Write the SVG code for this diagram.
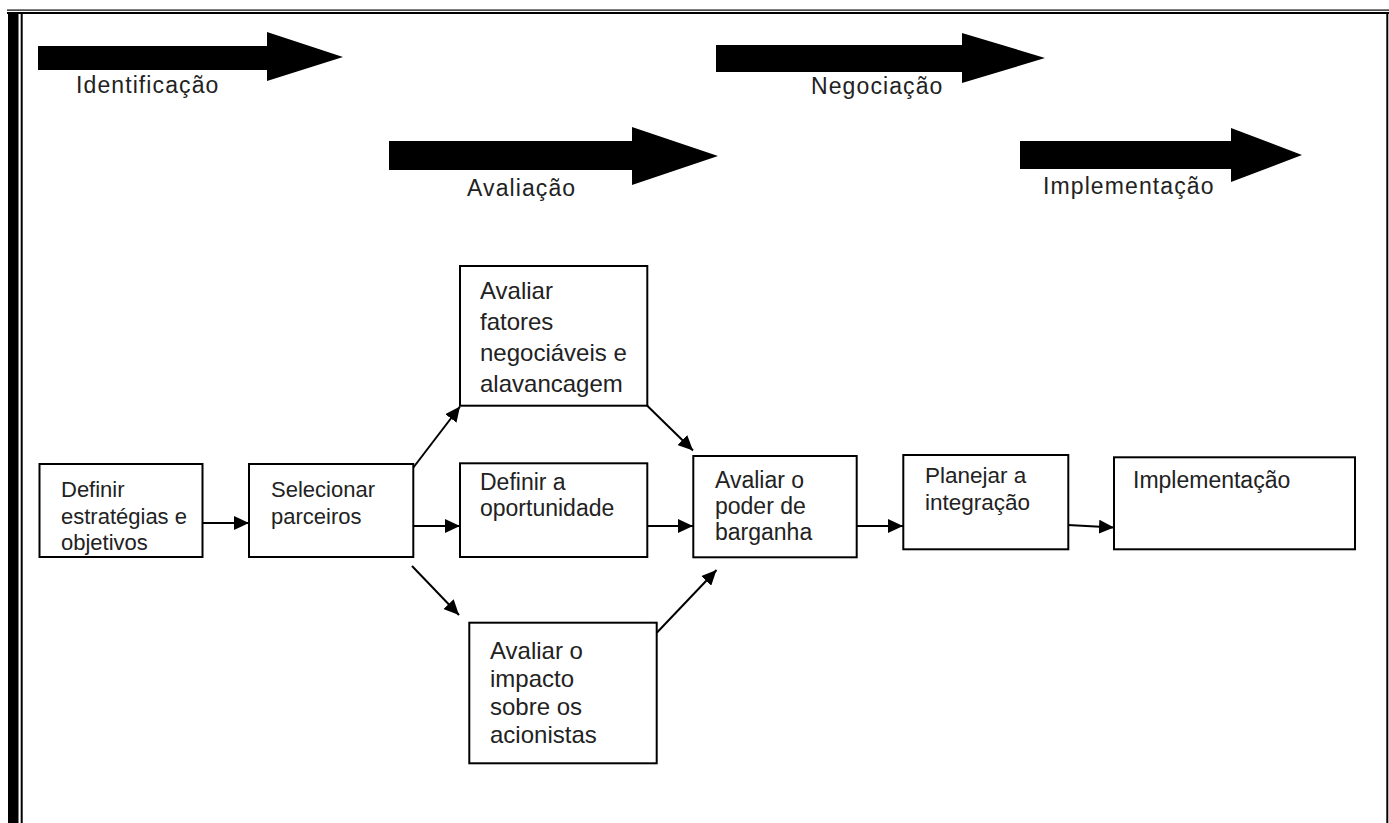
<svg xmlns="http://www.w3.org/2000/svg" width="1389" height="823" viewBox="0 0 1389 823">
<style>
.box{fill:#fff;stroke:#000;stroke-width:2}
.t{font-family:"Liberation Sans",Arial,sans-serif;fill:#222}
.lab{font-family:"Liberation Sans",Arial,sans-serif;font-size:23px;letter-spacing:1.1px;fill:#222}
.con{stroke:#000;stroke-width:2;fill:none;marker-end:url(#ah)}
.big{fill:#000}
</style>
<defs>
<marker id="ah" markerUnits="userSpaceOnUse" markerWidth="16" markerHeight="14" refX="15" refY="7" orient="auto">
<path d="M0,0 L15,7 L0,14 z" fill="#000"/>
</marker>
</defs>
<rect width="1389" height="823" fill="#fff"/>
<g id="border">
<rect x="7" y="9.5" width="1382" height="1.2" fill="#000"/>
<rect x="7" y="12" width="1382" height="2" fill="#000"/>
<rect x="8" y="14" width="10.5" height="809" fill="#000"/>
<rect x="20.7" y="14" width="2" height="809" fill="#000"/>
<rect x="1386.3" y="13" width="2" height="810" fill="#000"/>
</g>
<g id="phase-identificacao">
<polygon class="big" points="38,46 267,46 267,32 343,57 267,81 267,70 38,70"/>
<text class="lab" x="76" y="93">Identificação</text>
</g>
<g id="phase-negociacao">
<polygon class="big" points="716,45 962,45 962,33 1045,58 962,83 962,72 716,72"/>
<text class="lab" x="811" y="94">Negociação</text>
</g>
<g id="phase-avaliacao">
<polygon class="big" points="389,141 632,141 632,127 718,156 632,185 632,170 389,170"/>
<text class="lab" x="467" y="196">Avaliação</text>
</g>
<g id="phase-implementacao">
<polygon class="big" points="1020,141 1231,141 1231,128 1302,155 1231,182 1231,169 1020,169"/>
<text class="lab" x="1043" y="194">Implementação</text>
</g>
<g id="connectors">
<line class="con" x1="202" y1="523" x2="249" y2="523"/>
<line class="con" x1="413" y1="468" x2="460" y2="406.5"/>
<line class="con" x1="413" y1="526" x2="460" y2="526"/>
<line class="con" x1="412" y1="566" x2="459" y2="615"/>
<line class="con" x1="647" y1="405.5" x2="693" y2="450.5"/>
<line class="con" x1="647" y1="526" x2="693" y2="526"/>
<line class="con" x1="657" y1="632.5" x2="716.5" y2="570"/>
<line class="con" x1="857" y1="526" x2="903" y2="526"/>
<line class="con" x1="1068" y1="525" x2="1114" y2="527.5"/>
</g>
<g id="n1">
<rect class="box" x="39.5" y="464" width="163" height="93"/>
<text class="t" font-size="22" x="61" y="497">Definir</text>
<text class="t" font-size="22" x="61" y="523.5">estratégias e</text>
<text class="t" font-size="22" x="61" y="550">objetivos</text>
</g>
<g id="n2">
<rect class="box" x="249" y="464" width="164.3" height="93"/>
<text class="t" font-size="22" x="271" y="497">Selecionar</text>
<text class="t" font-size="22" x="271" y="523.5">parceiros</text>
</g>
<g id="n3">
<rect class="box" x="460" y="266" width="187.3" height="139.7"/>
<text class="t" font-size="24" x="480" y="299">Avaliar</text>
<text class="t" font-size="24" x="480" y="330">fatores</text>
<text class="t" font-size="24" x="480" y="361">negociáveis e</text>
<text class="t" font-size="24" x="480" y="392">alavancagem</text>
</g>
<g id="n4">
<rect class="box" x="460" y="463.3" width="187.3" height="93.7"/>
<text class="t" font-size="23" x="480" y="490">Definir a</text>
<text class="t" font-size="23" x="480" y="516">oportunidade</text>
</g>
<g id="n5">
<rect class="box" x="693.3" y="456" width="163.4" height="101.3"/>
<text class="t" font-size="23" x="715" y="488">Avaliar o</text>
<text class="t" font-size="23" x="715" y="514">poder de</text>
<text class="t" font-size="23" x="715" y="540">barganha</text>
</g>
<g id="n6">
<rect class="box" x="903.3" y="455" width="165" height="94.3"/>
<text class="t" font-size="22.5" x="925" y="483.3">Planejar a</text>
<text class="t" font-size="22.5" x="925" y="510">integração</text>
</g>
<g id="n7">
<rect class="box" x="1114" y="457.3" width="241" height="92"/>
<text class="t" font-size="23" x="1133" y="488.3">Implementação</text>
</g>
<g id="n8">
<rect class="box" x="469.3" y="622.7" width="187.4" height="140.6"/>
<text class="t" font-size="24" x="490" y="659">Avaliar o</text>
<text class="t" font-size="24" x="490" y="687">impacto</text>
<text class="t" font-size="24" x="490" y="715">sobre os</text>
<text class="t" font-size="24" x="490" y="743">acionistas</text>
</g>
</svg>
